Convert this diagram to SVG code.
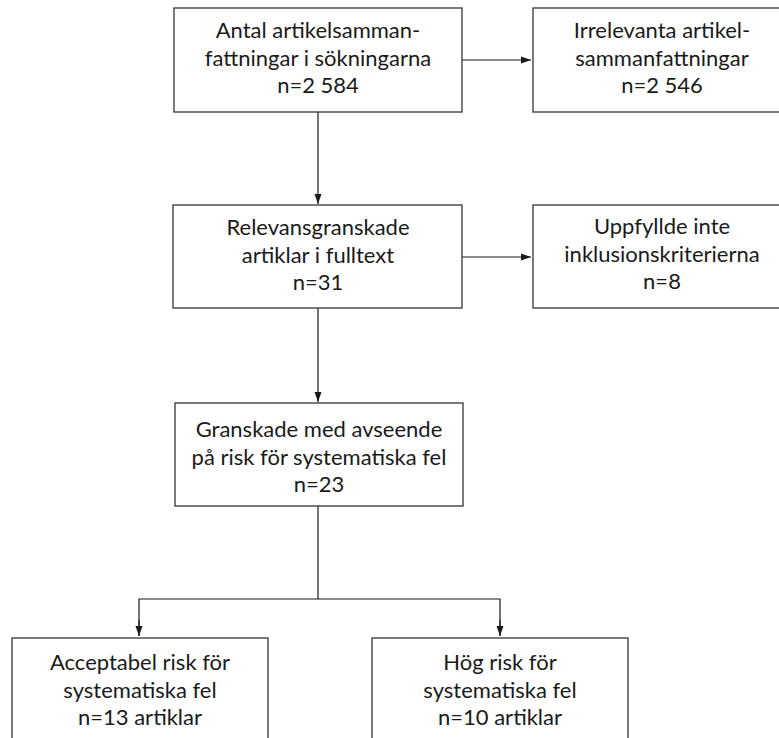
<svg xmlns="http://www.w3.org/2000/svg" width="779" height="738" viewBox="0 0 779 738">
  <style>
    .box { fill: #ffffff; stroke: #333333; stroke-width: 1.3; }
    .lbl { font-family: Lato, "Open Sans", "Liberation Sans", sans-serif; font-size: 22px; fill: #1a1a1a; text-anchor: middle; }
    .conn { fill: none; stroke: #1a1a1a; stroke-width: 1.2; }
  </style>
  <defs>
    <marker id="arrow" markerUnits="userSpaceOnUse" markerWidth="10" markerHeight="10" viewBox="0 0 10 10" refX="10" refY="5" orient="auto">
      <path d="M0,1.5 L10,5 L0,8.5 Z" fill="#1a1a1a"/>
    </marker>
  </defs>
  <rect width="779" height="738" fill="#ffffff"/>

  <g id="connectors">
    <line class="conn" x1="462" y1="60" x2="531" y2="60" marker-end="url(#arrow)"/>
    <line class="conn" x1="318" y1="112" x2="318" y2="204" marker-end="url(#arrow)"/>
    <line class="conn" x1="462" y1="257" x2="531" y2="257" marker-end="url(#arrow)"/>
    <line class="conn" x1="318" y1="308" x2="318" y2="402" marker-end="url(#arrow)"/>
    <polyline class="conn" points="318,506 318,599"/>
    <polyline class="conn" points="139,636 139,599 500,599 500,636" />
    <line class="conn" x1="139" y1="620" x2="139" y2="636" marker-end="url(#arrow)"/>
    <line class="conn" x1="500" y1="620" x2="500" y2="636" marker-end="url(#arrow)"/>
  </g>

  <g id="node-sokningar">
    <rect class="box" x="174" y="8" width="288" height="104"/>
    <text class="lbl" x="318" y="38">Antal artikelsamman-</text>
    <text class="lbl" x="318" y="65.5">fattningar i sökningarna</text>
    <text class="lbl" x="318" y="93">n=2 584</text>
  </g>

  <g id="node-irrelevanta">
    <rect class="box" x="533" y="8" width="258" height="104"/>
    <text class="lbl" x="662" y="38">Irrelevanta artikel-</text>
    <text class="lbl" x="662" y="65.5">sammanfattningar</text>
    <text class="lbl" x="662" y="93">n=2 546</text>
  </g>

  <g id="node-relevans">
    <rect class="box" x="173" y="205" width="289" height="103"/>
    <text class="lbl" x="318" y="235">Relevansgranskade</text>
    <text class="lbl" x="318" y="262.5">artiklar i fulltext</text>
    <text class="lbl" x="318" y="290">n=31</text>
  </g>

  <g id="node-uppfyllde">
    <rect class="box" x="533" y="205" width="258" height="103"/>
    <text class="lbl" x="662" y="234">Uppfyllde inte</text>
    <text class="lbl" x="662" y="261.5">inklusionskriterierna</text>
    <text class="lbl" x="662" y="289">n=8</text>
  </g>

  <g id="node-granskade">
    <rect class="box" x="175" y="403" width="288" height="103"/>
    <text class="lbl" x="319" y="437">Granskade med avseende</text>
    <text class="lbl" x="319" y="464.5">på risk för systematiska fel</text>
    <text class="lbl" x="319" y="492">n=23</text>
  </g>

  <g id="node-acceptabel">
    <rect class="box" x="12" y="638" width="256" height="120"/>
    <text class="lbl" x="140" y="670">Acceptabel risk för</text>
    <text class="lbl" x="140" y="697.5">systematiska fel</text>
    <text class="lbl" x="140" y="725">n=13 artiklar</text>
  </g>

  <g id="node-hog">
    <rect class="box" x="372" y="638" width="256" height="120"/>
    <text class="lbl" x="500" y="670">Hög risk för</text>
    <text class="lbl" x="500" y="697.5">systematiska fel</text>
    <text class="lbl" x="500" y="725">n=10 artiklar</text>
  </g>
</svg>
